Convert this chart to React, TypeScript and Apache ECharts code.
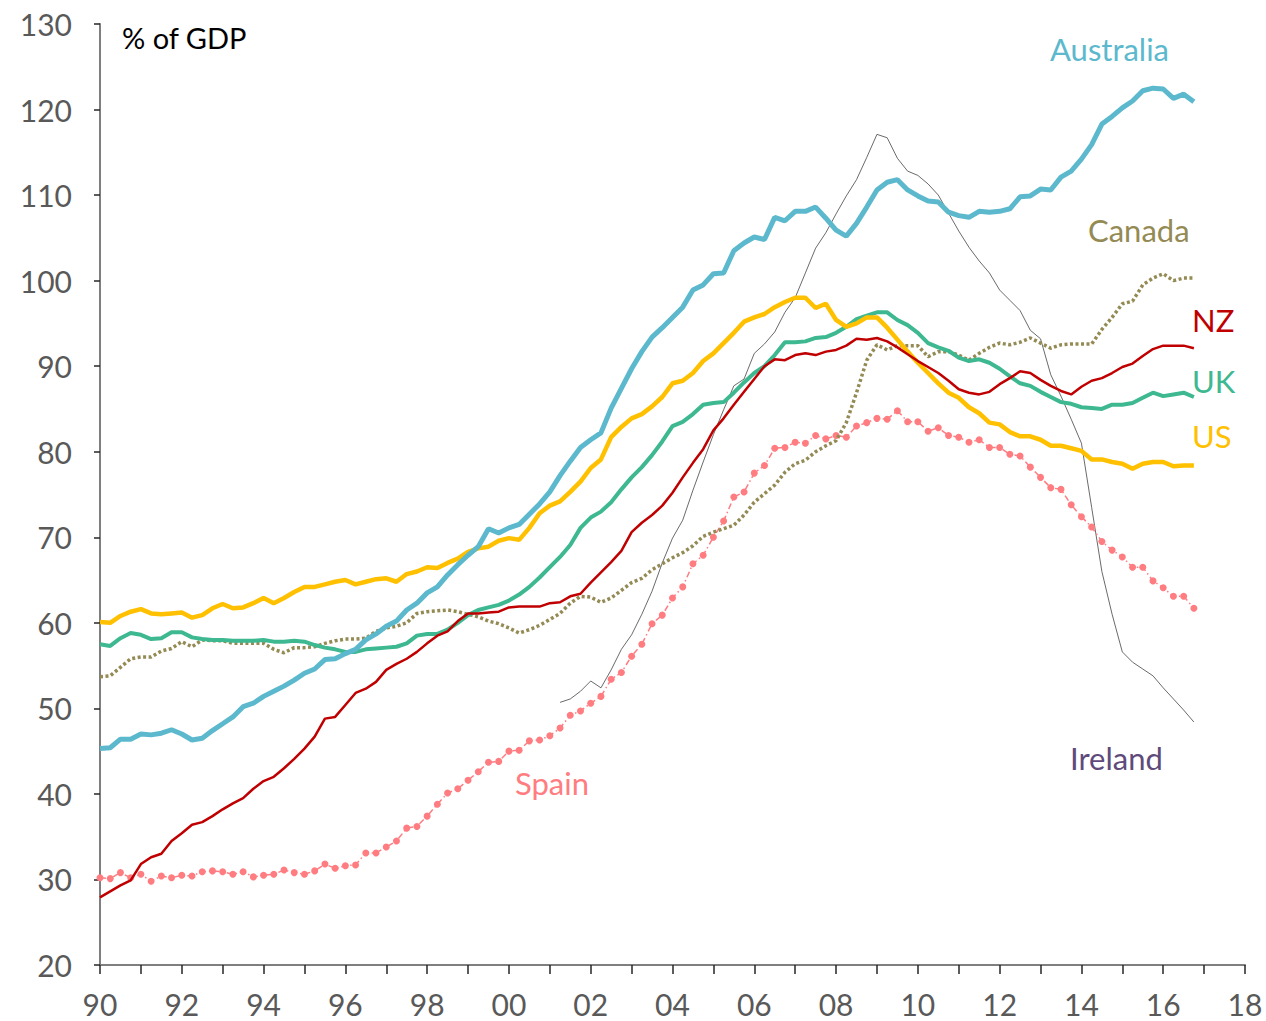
import React, { useEffect, useRef } from "react";
import * as echarts from "echarts";

// Quarterly data, 1990 Q1 .. 2016 Q4 (% of GDP)
const START_YEAR = 1990;
const QUARTER = 0.25;

const AUSTRALIA = [45.3,45.4,46.4,46.4,47.0,46.9,47.1,47.5,47.0,46.3,46.5,47.4,48.2,49.0,50.2,50.6,51.4,52.0,52.6,53.3,54.1,54.6,55.7,55.8,56.4,56.9,58.0,58.7,59.6,60.2,61.5,62.3,63.5,64.2,65.6,66.8,67.9,68.9,71.0,70.5,71.1,71.5,72.7,73.9,75.3,77.2,78.9,80.5,81.4,82.2,85.1,87.4,89.7,91.7,93.4,94.5,95.7,96.9,98.9,99.5,100.8,100.9,103.5,104.4,105.1,104.8,107.4,107.0,108.1,108.1,108.6,107.3,105.9,105.2,106.7,108.6,110.6,111.5,111.8,110.6,109.9,109.3,109.2,108.0,107.6,107.4,108.1,108.0,108.1,108.4,109.8,109.9,110.7,110.6,112.1,112.8,114.2,115.9,118.3,119.2,120.2,121.0,122.2,122.5,122.4,121.3,121.8,120.9];

const US = [60.1,60.0,60.8,61.3,61.6,61.1,61.0,61.1,61.2,60.6,60.9,61.7,62.2,61.7,61.8,62.3,62.9,62.3,62.9,63.6,64.2,64.2,64.5,64.8,65.0,64.5,64.8,65.1,65.2,64.8,65.7,66.0,66.5,66.4,67.0,67.5,68.3,68.7,68.9,69.6,69.9,69.7,71.1,72.8,73.7,74.2,75.3,76.5,78.1,79.1,81.7,82.9,83.9,84.4,85.3,86.4,88.0,88.3,89.2,90.6,91.5,92.7,93.9,95.2,95.7,96.1,96.9,97.5,98.0,98.0,96.8,97.3,95.4,94.6,95.0,95.7,95.7,94.5,93.1,91.7,90.4,89.2,88.0,86.9,86.3,85.2,84.5,83.4,83.2,82.3,81.8,81.8,81.4,80.7,80.7,80.4,80.1,79.1,79.1,78.8,78.6,78.0,78.6,78.8,78.8,78.3,78.4,78.4];

const UK = [57.5,57.3,58.2,58.8,58.6,58.1,58.2,58.9,58.9,58.3,58.1,58.0,58.0,57.9,57.9,57.9,58.0,57.8,57.8,57.9,57.8,57.4,57.1,56.9,56.6,56.6,56.9,57.0,57.1,57.2,57.6,58.5,58.7,58.7,59.2,60.0,60.9,61.5,61.8,62.1,62.6,63.3,64.2,65.3,66.5,67.7,69.1,71.1,72.3,73.0,74.1,75.6,77.0,78.2,79.6,81.2,83.0,83.5,84.4,85.5,85.7,85.8,86.9,88.1,89.2,90.0,91.3,92.8,92.8,92.9,93.3,93.4,93.9,94.6,95.5,95.9,96.3,96.3,95.4,94.8,93.9,92.7,92.2,91.8,91.0,90.6,90.8,90.4,89.7,88.8,88.0,87.7,87.0,86.4,85.8,85.6,85.2,85.1,85.0,85.5,85.5,85.7,86.3,86.9,86.5,86.7,86.9,86.4];

const NZ = [27.9,28.6,29.3,29.9,31.8,32.6,33.0,34.5,35.4,36.4,36.7,37.4,38.2,38.9,39.5,40.6,41.5,42.0,43.0,44.1,45.3,46.7,48.8,49.0,50.4,51.8,52.3,53.1,54.5,55.2,55.8,56.6,57.6,58.5,59.0,60.2,61.1,61.1,61.2,61.3,61.8,61.9,61.9,61.9,62.3,62.4,63.1,63.4,64.7,65.9,67.1,68.4,70.6,71.7,72.6,73.7,75.2,77.0,78.7,80.3,82.5,83.9,85.5,87.0,88.5,90.0,90.8,90.7,91.3,91.5,91.3,91.7,91.9,92.4,93.2,93.1,93.3,92.9,92.2,91.4,90.6,89.9,89.2,88.3,87.3,86.9,86.7,87.0,87.9,88.6,89.4,89.2,88.4,87.7,87.1,86.7,87.6,88.3,88.6,89.2,89.9,90.3,91.2,92.0,92.4,92.4,92.4,92.1];

const CANADA = [53.7,53.8,54.8,55.8,56.0,56.0,56.7,57.0,57.8,57.2,58.0,57.9,57.9,57.6,57.6,57.6,57.6,56.9,56.5,57.1,57.1,57.2,57.6,57.9,58.1,58.1,58.2,59.0,59.4,59.6,60.0,61.1,61.3,61.4,61.5,61.3,61.0,60.7,60.2,59.9,59.4,58.8,59.2,59.7,60.4,61.1,62.3,63.1,63.0,62.4,62.9,63.8,64.7,65.2,66.2,66.9,67.6,68.2,69.0,70.1,70.6,71.0,71.4,72.6,74.1,75.1,76.1,77.6,78.6,79.0,80.0,80.7,81.3,83.4,86.9,90.7,92.5,91.9,92.4,92.4,92.4,91.1,91.7,91.7,91.3,90.7,91.5,92.2,92.7,92.5,92.8,93.3,92.7,92.1,92.5,92.6,92.6,92.6,94.3,95.7,97.3,97.6,99.5,100.3,100.8,100.0,100.3,100.3];

const SPAIN = [30.2,30.1,30.8,30.2,30.6,29.8,30.4,30.2,30.5,30.4,30.9,31.0,30.9,30.6,30.9,30.3,30.5,30.6,31.1,30.8,30.6,31.0,31.8,31.3,31.6,31.7,33.1,33.1,33.8,34.5,36.0,36.2,37.4,38.8,40.1,40.6,41.6,42.6,43.7,43.8,45.0,45.1,46.2,46.3,46.8,47.7,49.2,49.7,50.6,51.4,53.4,54.2,56.1,57.5,59.9,60.9,62.9,64.2,66.9,67.9,70.0,71.9,74.7,75.3,77.5,78.4,80.4,80.5,81.1,81.0,81.9,81.5,81.9,81.7,83.0,83.4,83.9,83.8,84.8,83.5,83.5,82.4,82.8,81.9,81.7,81.1,81.4,80.5,80.5,79.7,79.5,78.2,77.0,75.8,75.6,73.8,72.4,71.2,69.5,68.5,67.7,66.5,66.5,64.9,64.1,63.1,63.1,61.7];

// Ireland starts 2001 Q2 (quarter index 45)
const IRELAND_START_INDEX = 45;
const IRELAND = [50.7,51.1,52.0,53.2,52.4,54.5,56.9,58.6,61.0,63.7,67.0,69.9,72.0,75.5,78.8,82.0,84.9,87.7,88.5,91.5,92.6,94.0,96.3,98.0,100.9,103.8,105.6,107.8,109.9,111.8,114.4,117.1,116.7,114.3,112.8,112.3,111.3,110.0,107.9,105.8,103.9,102.3,100.9,98.9,97.7,96.5,94.2,93.2,89.0,86.5,83.8,81.0,73.5,66.0,61.0,56.6,55.4,54.6,53.8,52.4,51.1,49.8,48.4];

const Y_MIN = 20;
const Y_MAX = 130;
const Y_STEP = 10;
const X_MIN = 1990;
const X_MAX = 2018;

const toPairs = (vals: number[], startIndex = 0) =>
  vals.map((v, i) => [START_YEAR + (startIndex + i) * QUARTER, v]);

const FONT = "Lato, 'Open Sans', sans-serif";

export default function App() {
  const ref = useRef<HTMLDivElement>(null);
  useEffect(() => {
    if (!ref.current) return;
    const chart = echarts.init(ref.current, null, { renderer: "svg" });
    const label = (text: string, x: number, y: number, color: string, size = 31) => ({
      type: "text",
      x,
      y,
      style: { text, fill: color, fontSize: size, fontFamily: FONT, verticalAlign: "middle" },
      z: 100,
    });
    chart.setOption({
      animation: false,
      backgroundColor: "#ffffff",
      grid: { left: 100, right: 21, top: 24, bottom: 56, containLabel: false },
      xAxis: {
        type: "value",
        min: X_MIN,
        max: X_MAX,
        interval: 1,
        axisLine: { show: true, lineStyle: { color: "#7f7f7f", width: 2 } },
        axisTick: { show: true, length: 9, lineStyle: { color: "#262626", width: 1.5 } },
        splitLine: { show: false },
        axisLabel: {
          color: "#595959",
          fontSize: 30,
          fontFamily: FONT,
          margin: 24,
          formatter: (v: number) => (Math.round(v) % 2 === 0 ? String(Math.round(v) % 100).padStart(2, "0") : ""),
        },
      },
      yAxis: {
        type: "value",
        min: Y_MIN,
        max: Y_MAX,
        interval: Y_STEP,
        axisLine: { show: true, lineStyle: { color: "#7f7f7f", width: 2 } },
        axisTick: { show: true, length: 6, lineStyle: { color: "#262626", width: 1.5 } },
        splitLine: { show: false },
        axisLabel: { color: "#595959", fontSize: 30, fontFamily: FONT, margin: 28 },
      },
      series: [
        {
          name: "Ireland",
          type: "line",
          data: toPairs(IRELAND, IRELAND_START_INDEX),
          symbol: "none",
          lineStyle: { color: "#595959", width: 0.9 },
          z: 1,
        },
        {
          name: "Spain",
          type: "line",
          data: toPairs(SPAIN),
          symbol: "circle",
          symbolSize: 7,
          itemStyle: { color: "#FF7C80", borderWidth: 0 },
          lineStyle: { color: "#FF7C80", width: 1.5, type: [6, 3, 1.5, 3] },
          z: 2,
        },
        {
          name: "Canada",
          type: "line",
          data: toPairs(CANADA),
          symbol: "none",
          lineStyle: { color: "#948A54", width: 3.5, type: [3, 2.5] },
          z: 3,
        },
        {
          name: "UK",
          type: "line",
          data: toPairs(UK),
          symbol: "none",
          lineStyle: { color: "#3DB890", width: 4 },
          z: 4,
        },
        {
          name: "US",
          type: "line",
          data: toPairs(US),
          symbol: "none",
          lineStyle: { color: "#FFC000", width: 4.5 },
          z: 5,
        },
        {
          name: "Australia",
          type: "line",
          data: toPairs(AUSTRALIA),
          symbol: "none",
          lineStyle: { color: "#5CB9CD", width: 5 },
          z: 6,
        },
        {
          name: "NZ",
          type: "line",
          data: toPairs(NZ),
          symbol: "none",
          lineStyle: { color: "#C00000", width: 2.5 },
          z: 7,
        },
      ],
      graphic: [
        label("% of GDP", 122, 37, "#000000", 29),
        label("Australia", 1050, 49, "#5CB9CD"),
        label("Canada", 1088, 230, "#948A54"),
        label("NZ", 1192, 320, "#C00000"),
        label("UK", 1192, 381, "#3DB890"),
        label("US", 1192, 436, "#FFC000"),
        label("Ireland", 1070, 758, "#604A7B"),
        label("Spain", 515, 783, "#FF7C80"),
      ],
    });
    return () => chart.dispose();
  }, []);
  return (
    <div
      ref={ref}
      style={{ position: "fixed", left: 0, top: 0, width: 1266, height: 1021, background: "#fff" }}
    />
  );
}
